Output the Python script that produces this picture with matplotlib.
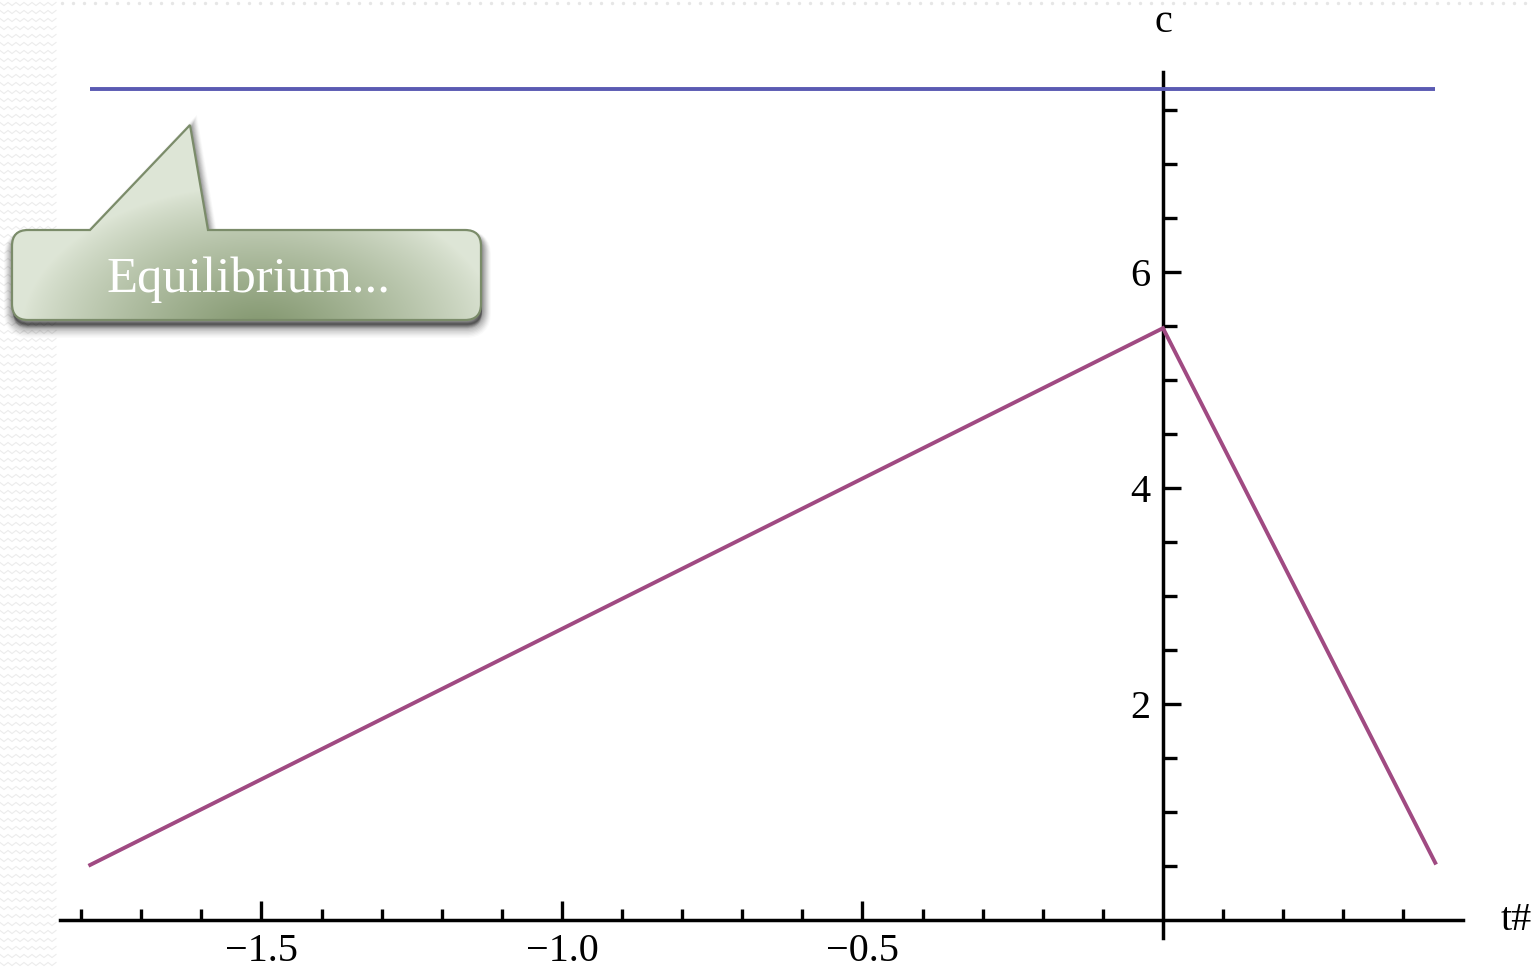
import numpy as np
import matplotlib
matplotlib.use("Agg")
import matplotlib.pyplot as plt
from matplotlib.path import Path
from matplotlib.patches import PathPatch

# ---- data ----
t_pts = [-1.785, 0.0, 0.453]      # piecewise-linear path c(t)
c_pts = [0.51, 5.48, 0.53]
t_eq = [-1.785, 0.453]            # equilibrium level
c_eq = [7.69, 7.69]

x_major = [-1.5, -1.0, -0.5]
x_labels = ["\u22121.5", "\u22121.0", "\u22120.5"]
y_major = [2, 4, 6]
y_labels = ["2", "4", "6"]

W, H, DPI = 1535, 969, 100
fig = plt.figure(figsize=(W / DPI, H / DPI), dpi=DPI)
fig.patch.set_facecolor("white")

ax = fig.add_axes([0, 0, 1, 1])
ax.set_facecolor("none")
ax.set_xlim(-1.9351, 0.6190)
ax.set_ylim(-0.4537, 8.5185)

ax.plot(t_eq, c_eq, color="#5a5ab2", lw=2.8, solid_capstyle="butt", zorder=3)
ax.plot(t_pts, c_pts, color="#a04a82", lw=2.8, solid_joinstyle="miter", zorder=3)

# axes through the origin, Mathematica style
for s in ["top", "right"]:
    ax.spines[s].set_visible(False)
ax.spines["left"].set_position(("data", 0))
ax.spines["bottom"].set_position(("data", 0))
ax.spines["left"].set_bounds(-0.17, 7.85)
ax.spines["bottom"].set_bounds(-1.835, 0.5)
for s in ["left", "bottom"]:
    ax.spines[s].set_linewidth(2.5)
    ax.spines[s].set_color("black")

ax.set_xticks(x_major)
ax.set_xticklabels(x_labels)
ax.set_xticks([v / 10 for v in range(-18, 5) if v % 5 != 0], minor=True)
ax.set_yticks(y_major)
ax.set_yticklabels(y_labels)
ax.set_yticks([v / 2 for v in range(1, 16) if v % 4 != 0], minor=True)

serif = ["Liberation Serif", "DejaVu Serif"]
ax.tick_params(axis="x", which="major", direction="in", length=14, width=2.4, pad=9)
ax.tick_params(axis="x", which="minor", direction="in", length=8, width=2.4)
ax.tick_params(axis="y", which="major", direction="in", length=13, width=2.4, pad=9)
ax.tick_params(axis="y", which="minor", direction="in", length=10, width=2.4)
for lab in ax.get_xticklabels() + ax.get_yticklabels():
    lab.set_fontfamily(serif)
    lab.set_fontsize(29)

ax.text(0, 8.31, "c", ha="center", va="center", fontsize=29, family=serif)
ax.text(0.588, 0.0, "t#", ha="center", va="center", fontsize=29, family=serif)

# ---- overlay in pixel coordinates: slide texture and callout ----
ov = fig.add_axes([0, 0, 1, 1], zorder=5)
ov.set_xlim(0, W)
ov.set_ylim(H, 0)
ov.axis("off")
ov.patch.set_alpha(0)

# faint zigzag texture on the left strip
zx = np.arange(0, 59, 4)
for y0 in np.arange(4, H, 8):
    zy = y0 + np.where((zx // 4) % 2 == 0, -1.5, 1.5)
    ov.plot(zx, zy, color="#ececec", lw=0.8, zorder=0)
# dotted border along the top
dots_x = np.arange(62, W, 11)
ov.scatter(dots_x, np.full(len(dots_x), 3), s=2, color="#e6e6e6", zorder=0)

# callout shape: rounded box with a pointer
x0, x1, y0, y1, r = 12, 481, 230, 320, 16
verts = [
    (x0 + r, y0), (90, y0), (190, 125), (208, y0), (x1 - r, y0),
    (x1, y0), (x1, y0 + r),
    (x1, y1 - r),
    (x1, y1), (x1 - r, y1),
    (x0 + r, y1),
    (x0, y1), (x0, y1 - r),
    (x0, y0 + r),
    (x0, y0), (x0 + r, y0),
    (x0 + r, y0),
]
codes = [Path.MOVETO, Path.LINETO, Path.LINETO, Path.LINETO, Path.LINETO,
         Path.CURVE3, Path.CURVE3, Path.LINETO,
         Path.CURVE3, Path.CURVE3, Path.LINETO,
         Path.CURVE3, Path.CURVE3, Path.LINETO,
         Path.CURVE3, Path.CURVE3, Path.CLOSEPOLY]
callout = Path(verts, codes)

# soft drop shadow
for k, a in zip(range(10, 0, -1), np.linspace(0.02, 0.08, 10)):
    sh = Path(np.array(verts) + [1, 4 + k * 0.5], codes)
    ov.add_patch(PathPatch(sh, facecolor="black", edgecolor="black",
                           lw=k * 1.3, alpha=a, zorder=2))

# green gradient, darker toward the lower middle
gx, gy = np.meshgrid(np.linspace(x0, x1, 300), np.linspace(120, y1, 150))
d = np.sqrt(((gx - 260) / 240) ** 2 + ((gy - 335) / 150) ** 2)
w = np.clip(1 - d, 0, 1) ** 0.85
light = np.array([0.87, 0.90, 0.84])
dark = np.array([0.50, 0.58, 0.42])
img = light + (dark - light) * w[..., None]
im = ov.imshow(img, extent=(x0, x1, y1, 120), zorder=3, interpolation="bilinear")
pp = PathPatch(callout, facecolor="none", edgecolor="#7b8c6a", lw=1.6, zorder=4)
ov.add_patch(pp)
im.set_clip_path(pp)
ov.set_xlim(0, W)
ov.set_ylim(H, 0)

ov.text(248, 280, "Equilibrium...", ha="center", va="center", color="white",
        fontsize=36.5, family=serif, zorder=5)

fig.savefig("out.png", dpi=DPI)
